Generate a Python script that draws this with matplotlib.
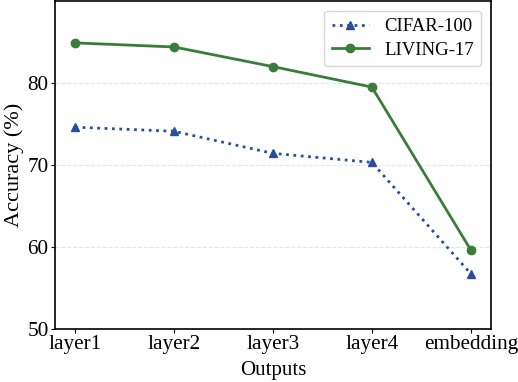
import matplotlib
matplotlib.use('Agg')
import matplotlib.pyplot as plt

plt.rcParams['font.family'] = ['Liberation Serif', 'DejaVu Serif']
plt.rcParams['mathtext.fontset'] = 'stix'

outputs = ['layer1', 'layer2', 'layer3', 'layer4', 'embedding']
cifar100 = [74.6, 74.1, 71.4, 70.3, 56.7]
living17 = [84.9, 84.4, 82.0, 79.5, 59.6]

fig, ax = plt.subplots(figsize=(5.18, 3.82), dpi=100)

ax.plot(outputs, cifar100, linestyle=':', marker='^', color='#2a4d9e',
        linewidth=2, markersize=6, label='CIFAR-100')
ax.plot(outputs, living17, linestyle='-', marker='o', color='#3a7d3a',
        linewidth=2, markersize=6, label='LIVING-17')

ax.set_ylim(50, 90)
ax.set_xlim(-0.2, 4.2)
ax.set_yticks([50, 60, 70, 80])
ax.grid(axis='y', linestyle='--', color='#e6e6e6', linewidth=0.8)
ax.set_axisbelow(True)

ax.set_xlabel('Outputs', fontsize=15, labelpad=5)
ax.set_ylabel('Accuracy (%)', fontsize=16, labelpad=2)
ax.tick_params(labelsize=15.3, pad=2, length=3)

for s in ax.spines.values():
    s.set_linewidth(1.2)

ax.legend(loc='upper right', fontsize=13.5, handlelength=2.0,
          borderaxespad=0.5, labelspacing=0.35)

fig.subplots_adjust(left=0.107, right=0.947, top=0.997, bottom=0.14)
fig.savefig('out.png', dpi=100)
